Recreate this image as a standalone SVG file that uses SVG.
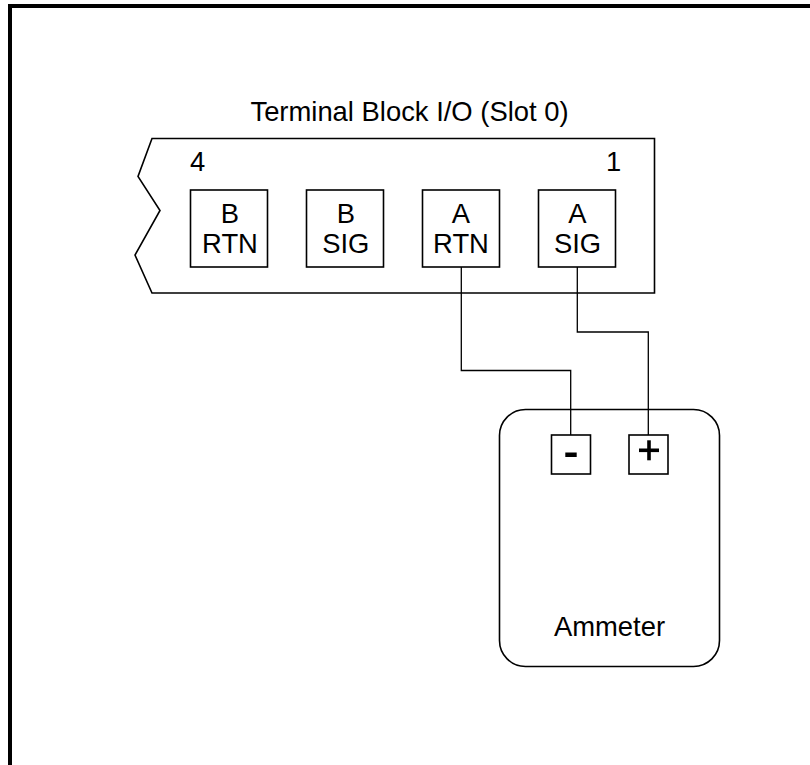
<svg xmlns="http://www.w3.org/2000/svg" width="810" height="765" viewBox="0 0 810 765">
<style>
.l{fill:none;stroke:#000;stroke-width:1.6}
.w{fill:none;stroke:#000;stroke-width:1.3}
text{font-family:"Liberation Sans",Arial,sans-serif;font-size:27.400px;fill:#000;text-anchor:middle}
</style>
<rect width="810" height="765" fill="#fff"/>
<path id="page-border" d="M10 765V6H810" fill="none" stroke="#000" stroke-width="4"/>
<text x="409.500" y="120.500">Terminal Block I/O (Slot 0)</text>
<g id="terminal-block">
<path class="l" d="M152 138.500H654.500V293H152L135 255L160 210.500L138 176.500Z"/>
<text x="197.500" y="171">4</text>
<text x="613.500" y="171">1</text>
</g>
<g id="b-rtn"><rect class="l" x="190.500" y="190" width="77" height="77"/><text x="230" y="223">B</text><text x="230" y="253">RTN</text></g>
<g id="b-sig"><rect class="l" x="306.500" y="190" width="77" height="77"/><text x="345.800" y="223">B</text><text x="345.800" y="253">SIG</text></g>
<g id="a-rtn"><rect class="l" x="422.500" y="190" width="77" height="77"/><text x="461" y="223">A</text><text x="461" y="253">RTN</text></g>
<g id="a-sig"><rect class="l" x="538.500" y="190" width="77" height="77"/><text x="577.500" y="223">A</text><text x="577.500" y="253">SIG</text></g>
<g id="ammeter">
<rect class="l" x="499.500" y="409.500" width="220" height="257" rx="26" ry="26"/>
<text x="609.500" y="636">Ammeter</text>
</g>
<g id="minus"><rect class="l" x="551.500" y="435" width="39" height="39"/><rect x="565.300" y="452.500" width="11.400" height="4.500"/></g>
<g id="plus"><rect class="l" x="629" y="435" width="39" height="39"/><rect x="639" y="448.500" width="20" height="3.600"/><rect x="647.200" y="440.300" width="3.600" height="20"/></g>
<g id="connectors">
<path class="w" d="M461.300 267V370.500H570.700V435"/>
<path class="w" d="M577.300 267V332H648.300V435"/>
</g>
</svg>
